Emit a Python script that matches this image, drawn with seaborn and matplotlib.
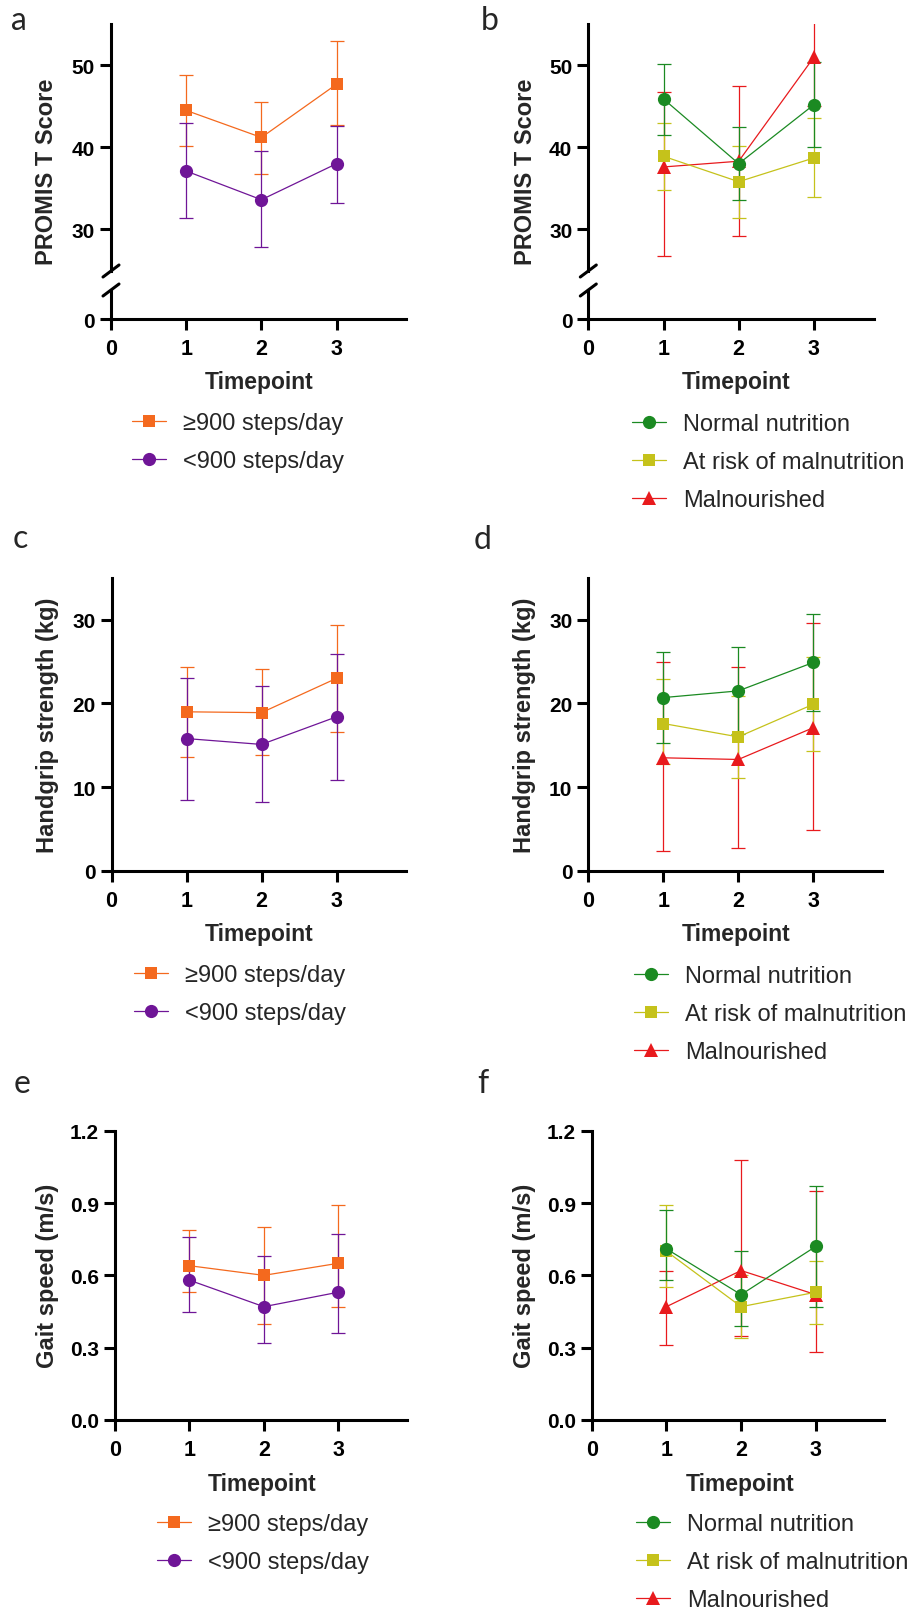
import numpy as np
import matplotlib
matplotlib.use("Agg")
import matplotlib.pyplot as plt
from matplotlib.lines import Line2D
import seaborn as sns

# ---------------------------------------------------------------- data
timepoints = [1, 2, 3]
x_ticks = [0, 1, 2, 3]

steps_labels = ["\u2265900 steps/day", "<900 steps/day"]
nutrition_labels = ["Normal nutrition", "At risk of malnutrition", "Malnourished"]

# PROMIS T score, by daily step count (mean, lower and upper error limits)
promis_high_steps = [44.5, 41.2, 47.7]
promis_high_steps_lo = [40.2, 36.7, 42.7]
promis_high_steps_hi = [48.8, 45.5, 53.0]
promis_low_steps = [37.1, 33.6, 38.0]
promis_low_steps_lo = [31.4, 27.8, 33.2]
promis_low_steps_hi = [43.0, 39.5, 42.6]

# PROMIS T score, by nutritional status
promis_normal = [45.9, 38.0, 45.2]
promis_normal_lo = [41.5, 33.6, 40.0]
promis_normal_hi = [50.2, 42.5, 50.4]
promis_risk = [38.9, 35.8, 38.7]
promis_risk_lo = [34.8, 31.4, 33.9]
promis_risk_hi = [43.0, 40.2, 43.6]
promis_mal = [37.6, 38.3, 51.0]
promis_mal_lo = [26.7, 29.2, 45.0]
promis_mal_hi = [46.8, 47.5, 57.0]

# Handgrip strength (kg), by daily step count
grip_high_steps = [19.0, 18.9, 23.0]
grip_high_steps_lo = [13.6, 13.8, 16.6]
grip_high_steps_hi = [24.4, 24.1, 29.4]
grip_low_steps = [15.8, 15.1, 18.4]
grip_low_steps_lo = [8.5, 8.2, 10.9]
grip_low_steps_hi = [23.1, 22.1, 25.9]

# Handgrip strength (kg), by nutritional status
grip_normal = [20.7, 21.5, 24.9]
grip_normal_lo = [15.3, 16.3, 19.1]
grip_normal_hi = [26.2, 26.7, 30.7]
grip_risk = [17.6, 16.0, 19.9]
grip_risk_lo = [12.8, 11.1, 14.3]
grip_risk_hi = [22.9, 20.9, 25.5]
grip_mal = [13.5, 13.3, 17.1]
grip_mal_lo = [2.3, 2.7, 4.9]
grip_mal_hi = [25.0, 24.3, 29.6]

# Gait speed (m/s), by daily step count
gait_high_steps = [0.64, 0.60, 0.65]
gait_high_steps_lo = [0.53, 0.40, 0.47]
gait_high_steps_hi = [0.79, 0.80, 0.89]
gait_low_steps = [0.58, 0.47, 0.53]
gait_low_steps_lo = [0.45, 0.32, 0.36]
gait_low_steps_hi = [0.76, 0.68, 0.77]

# Gait speed (m/s), by nutritional status
gait_normal = [0.71, 0.52, 0.72]
gait_normal_lo = [0.58, 0.39, 0.47]
gait_normal_hi = [0.87, 0.70, 0.97]
gait_risk = [0.70, 0.47, 0.53]
gait_risk_lo = [0.55, 0.34, 0.40]
gait_risk_hi = [0.89, 0.60, 0.66]
gait_mal = [0.47, 0.62, 0.52]
gait_mal_lo = [0.31, 0.35, 0.28]
gait_mal_hi = [0.62, 1.08, 0.95]

# ---------------------------------------------------------------- style
sns.set_theme(style="ticks")
plt.rcParams["font.family"] = ["Liberation Sans", "DejaVu Sans"]
plt.rcParams["axes.linewidth"] = 2.2

ORANGE = "#F4691E"
PURPLE = "#6F1597"
GREEN = "#1B8A22"
OLIVE = "#C5C21B"
RED = "#E81A1D"

W, H = 910, 1615
fig = plt.figure(figsize=(W / 100, H / 100), dpi=100)


def px_rect(left, top, right, bottom):
    return [left / W, 1 - bottom / H, (right - left) / W, (bottom - top) / H]


def fx(x):
    return x / W


def fy(y):
    return 1 - y / H


def style_axes(ax):
    sns.despine(ax=ax)
    for side in ("left", "bottom"):
        ax.spines[side].set_color("black")
        ax.spines[side].set_linewidth(2.2)
    ax.tick_params(axis="both", direction="out", width=2.2, length=8,
                   color="black", labelcolor="black")
    ax.tick_params(axis="y", pad=3.5)
    ax.tick_params(axis="x", pad=6)
    ax.set_xlabel("")
    ax.set_ylabel("")


def set_x(ax, xmax):
    ax.set_xlim(0, xmax)
    ax.set_xticks(x_ticks, labels=[str(t) for t in x_ticks],
                  fontsize=15.5, fontweight="bold")


def set_y(ax, ylim, ticks, labels):
    ax.set_ylim(*ylim)
    ax.set_yticks(ticks, labels=labels, fontsize=15, fontweight="bold")


def draw_series(ax, mean, lo, hi, color, marker, ms, label):
    yerr = [np.subtract(mean, lo), np.subtract(hi, mean)]
    ax.errorbar(timepoints, mean, yerr=yerr, fmt="none", ecolor=color,
                elinewidth=0.9, capsize=5.2, capthick=0.9, zorder=2)
    sns.lineplot(x=timepoints, y=mean, color=color, marker=marker,
                 markersize=ms, markeredgewidth=0, linewidth=0.9,
                 label=label, ax=ax, zorder=3)
    return Line2D([], [], color=color, marker=marker, markersize=ms,
                  markeredgewidth=0, linewidth=0.9)


def add_legend(ax, handles, labels, text_left, center_y):
    old = ax.get_legend()
    if old is not None:
        old.remove()
    fs_px = 17 * 100 / 72
    x0 = text_left - (1.45 + 0.7) * fs_px
    fig.legend(handles, labels, loc="center left",
               bbox_to_anchor=(fx(x0), fy(center_y)),
               bbox_transform=fig.transFigure, frameon=False,
               fontsize=17, handlelength=1.45, handletextpad=0.7,
               labelspacing=0.68, borderpad=0, borderaxespad=0)


def broken_panel(left, xmax):
    top_ax = fig.add_axes(px_rect(left, 25.4, left + xmax * 75.2, 272))
    low_ax = fig.add_axes(px_rect(left, 291, left + xmax * 75.2, 320))
    style_axes(top_ax)
    style_axes(low_ax)
    top_ax.spines["bottom"].set_visible(False)
    top_ax.set_xlim(0, xmax)
    top_ax.tick_params(axis="x", bottom=False, labelbottom=False)
    set_y(top_ax, (24.9, 55), [30, 40, 50], ["30", "40", "50"])
    set_x(low_ax, xmax)
    set_y(low_ax, (0, 3.54), [0], ["0"])
    for y in (272, 291):
        fig.add_artist(Line2D([fx(left - 8), fx(left + 8)],
                              [fy(y + 6), fy(y - 6)], color="black",
                              linewidth=2.2, transform=fig.transFigure))
    return top_ax, low_ax


def simple_panel(left, top, right, bottom, xmax, ylim, ticks, labels):
    ax = fig.add_axes(px_rect(left, top, right, bottom))
    style_axes(ax)
    set_x(ax, xmax)
    set_y(ax, ylim, ticks, labels)
    return ax


def axis_texts(ylabel, ylab_x, ylab_y, tp_x, tp_y):
    fig.text(fx(ylab_x), fy(ylab_y), ylabel, rotation=90, ha="center",
             va="center", fontsize=17, fontweight="bold")
    fig.text(fx(tp_x), fy(tp_y), "Timepoint", ha="center", va="center",
             fontsize=16.5, fontweight="bold")


def panel_letter(letter, x, y):
    fig.text(fx(x), fy(y), letter, ha="left", va="baseline", fontsize=23,
             family=["Lato", "DejaVu Sans"])


# ---------------------------------------------------------------- a
ax_a, _ = broken_panel(111, 3.92)
h1 = draw_series(ax_a, promis_high_steps, promis_high_steps_lo,
                 promis_high_steps_hi, ORANGE, "s", 9, steps_labels[0])
h2 = draw_series(ax_a, promis_low_steps, promis_low_steps_lo,
                 promis_low_steps_hi, PURPLE, "o", 9.5, steps_labels[1])
add_legend(ax_a, [h1, h2], steps_labels, 183, 443)
axis_texts("PROMIS T Score", 47, 172, 259, 383)
panel_letter("a", 11, 30)

# ---------------------------------------------------------------- b
ax_b, _ = broken_panel(588.3, 3.8)
hm = draw_series(ax_b, promis_mal, promis_mal_lo, promis_mal_hi,
                 RED, "^", 10, nutrition_labels[2])
hr = draw_series(ax_b, promis_risk, promis_risk_lo, promis_risk_hi,
                 OLIVE, "s", 9, nutrition_labels[1])
hn = draw_series(ax_b, promis_normal, promis_normal_lo, promis_normal_hi,
                 GREEN, "o", 9.5, nutrition_labels[0])
add_legend(ax_b, [hn, hr, hm], nutrition_labels, 683, 463)
axis_texts("PROMIS T Score", 525, 172, 736, 383)
panel_letter("b", 481, 30)

# ---------------------------------------------------------------- c
grip_ticks = [0, 10, 20, 30]
ax_c = simple_panel(111.5, 579, 405.5, 871.7, 3.92, (0, 35), grip_ticks,
                    [str(t) for t in grip_ticks])
h1 = draw_series(ax_c, grip_high_steps, grip_high_steps_lo,
                 grip_high_steps_hi, ORANGE, "s", 9, steps_labels[0])
h2 = draw_series(ax_c, grip_low_steps, grip_low_steps_lo,
                 grip_low_steps_hi, PURPLE, "o", 9.5, steps_labels[1])
add_legend(ax_c, [h1, h2], steps_labels, 185, 995)
axis_texts("Handgrip strength (kg)", 48, 725, 259, 935)
panel_letter("c", 13, 548)

# ---------------------------------------------------------------- d
ax_d = simple_panel(588.3, 579, 882.3, 871.7, 3.92, (0, 35), grip_ticks,
                    [str(t) for t in grip_ticks])
hm = draw_series(ax_d, grip_mal, grip_mal_lo, grip_mal_hi,
                 RED, "^", 10, nutrition_labels[2])
hr = draw_series(ax_d, grip_risk, grip_risk_lo, grip_risk_hi,
                 OLIVE, "s", 9, nutrition_labels[1])
hn = draw_series(ax_d, grip_normal, grip_normal_lo, grip_normal_hi,
                 GREEN, "o", 9.5, nutrition_labels[0])
add_legend(ax_d, [hn, hr, hm], nutrition_labels, 685, 1015)
axis_texts("Handgrip strength (kg)", 525, 725, 736, 935)
panel_letter("d", 474, 549)

# ---------------------------------------------------------------- e
gait_ticks = [0.0, 0.3, 0.6, 0.9, 1.2]
gait_tick_labels = [f"{t:.1f}" for t in gait_ticks]
ax_e = simple_panel(115, 1131.7, 406.7, 1421, 3.92, (0, 1.2), gait_ticks,
                    gait_tick_labels)
h1 = draw_series(ax_e, gait_high_steps, gait_high_steps_lo,
                 gait_high_steps_hi, ORANGE, "s", 9, steps_labels[0])
h2 = draw_series(ax_e, gait_low_steps, gait_low_steps_lo,
                 gait_low_steps_hi, PURPLE, "o", 9.5, steps_labels[1])
add_legend(ax_e, [h1, h2], steps_labels, 208, 1544)
axis_texts("Gait speed (m/s)", 48, 1276, 262, 1485)
panel_letter("e", 14, 1093)

# ---------------------------------------------------------------- f
ax_f = simple_panel(591.7, 1131.7, 884.5, 1421, 3.92, (0, 1.2), gait_ticks,
                    gait_tick_labels)
hm = draw_series(ax_f, gait_mal, gait_mal_lo, gait_mal_hi,
                 RED, "^", 10, nutrition_labels[2])
hr = draw_series(ax_f, gait_risk, gait_risk_lo, gait_risk_hi,
                 OLIVE, "s", 9, nutrition_labels[1])
hn = draw_series(ax_f, gait_normal, gait_normal_lo, gait_normal_hi,
                 GREEN, "o", 9.5, nutrition_labels[0])
add_legend(ax_f, [hn, hr, hm], nutrition_labels, 687, 1563)
axis_texts("Gait speed (m/s)", 525, 1276, 740, 1485)
panel_letter("f", 477, 1093)

fig.savefig("out.png", dpi=100)
